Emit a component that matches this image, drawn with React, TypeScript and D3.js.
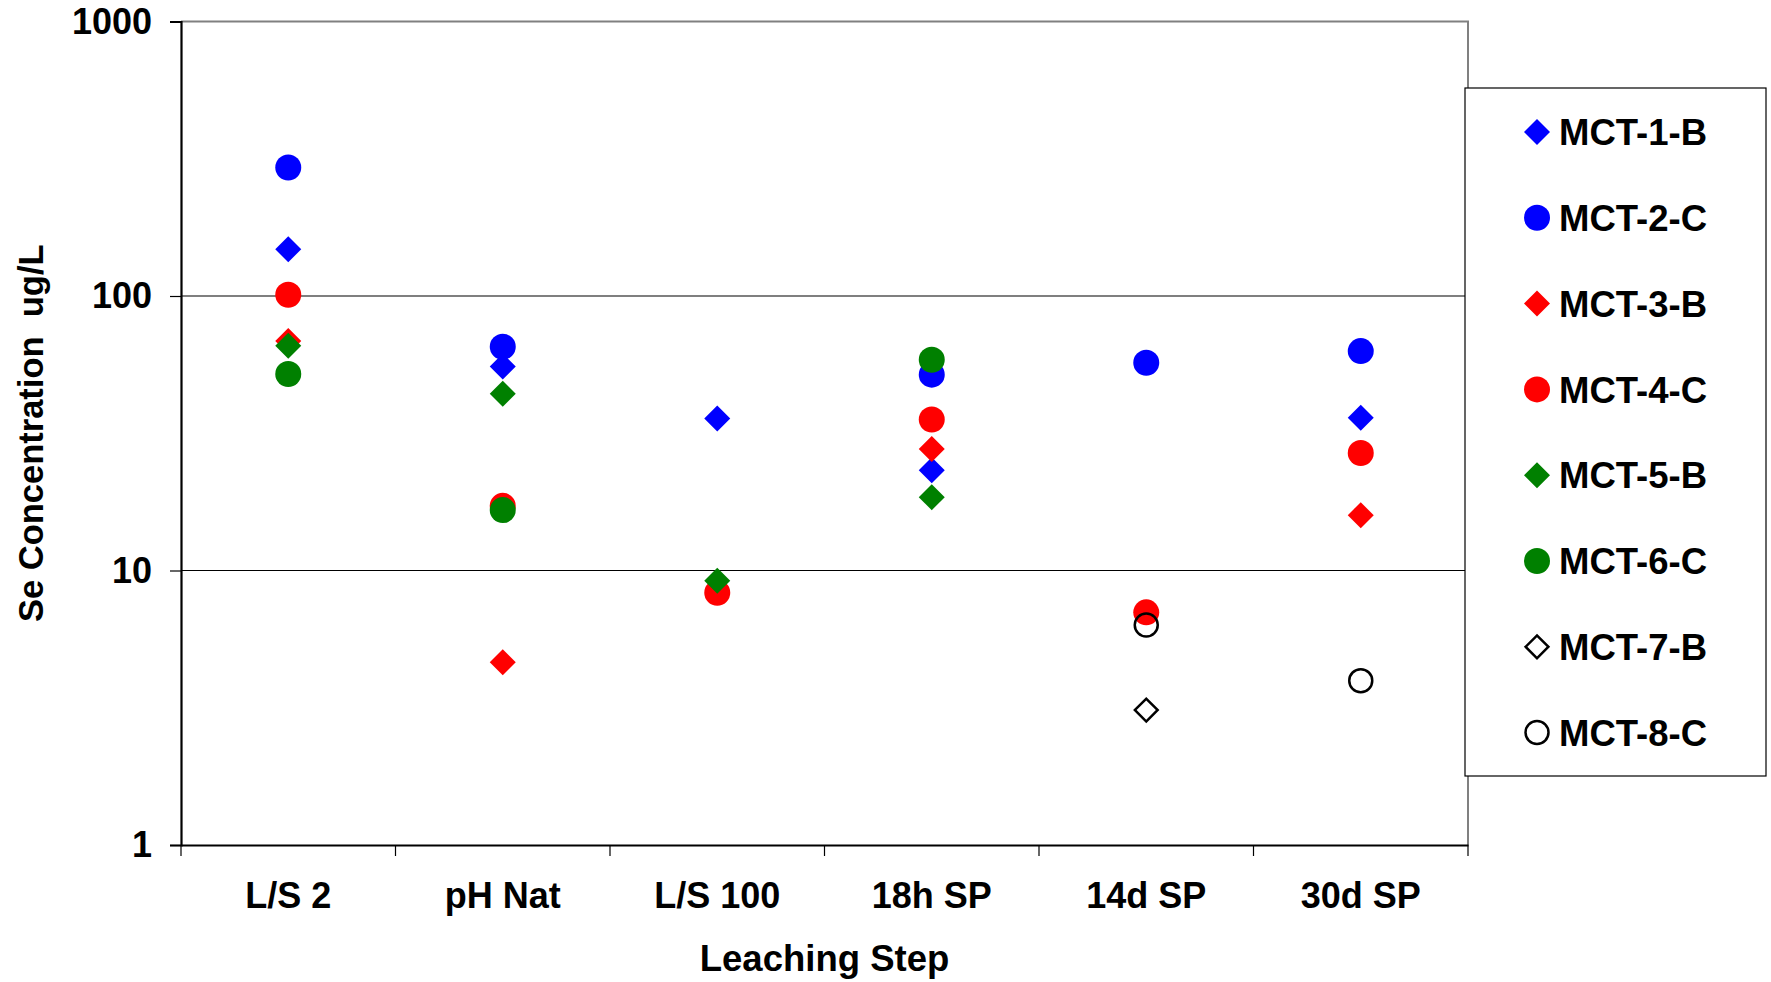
import * as d3 from 'd3';
import React, { useRef, useEffect } from 'react';

const categories = ["L/S 2", "pH Nat", "L/S 100", "18h SP", "14d SP", "30d SP"];
const seriesNames = ["MCT-1-B", "MCT-2-C", "MCT-3-B", "MCT-4-C", "MCT-5-B", "MCT-6-C", "MCT-7-B", "MCT-8-C"];

// values per leaching step, null = no point
const mct1b = [148, 55.3, 35.8, 23.2, null, 36.0];
const mct2c = [294, 65.3, null, 51.7, 57.1, 63.0];
const mct3b = [68.6, 4.63, null, 27.7, null, 15.9];
const mct4c = [101, 17.2, 8.3, 35.5, 7.04, 26.8];
const mct5b = [65.9, 44, 9.18, 18.5, null, null];
const mct6c = [52, 16.6, null, 58.6, null, null];
const mct7b = [null, null, null, null, 3.1, null];
const mct8c = [null, null, null, null, 6.33, 3.97];

const yTicks = [1, 10, 100, 1000];

const W = 1771, H = 982;
const margin = { top: 21.5, right: 303, bottom: 137, left: 181 };
const FONT = "'Liberation Sans', Arial, Helvetica, sans-serif";

// marker look for each series
const styles = [
  { shape: "diamond", color: "#0000ff", hollow: false },
  { shape: "circle", color: "#0000ff", hollow: false },
  { shape: "diamond", color: "#ff0000", hollow: false },
  { shape: "circle", color: "#ff0000", hollow: false },
  { shape: "diamond", color: "#008000", hollow: false },
  { shape: "circle", color: "#008000", hollow: false },
  { shape: "diamond", color: "#000000", hollow: true },
  { shape: "circle", color: "#000000", hollow: true },
];

function Chart() {
  const ref = useRef(null);

  useEffect(() => {
    const svg = d3.select(ref.current);
    svg.selectAll('*').remove();

    const allSeries = [mct1b, mct2c, mct3b, mct4c, mct5b, mct6c, mct7b, mct8c];

    const x0 = margin.left, x1 = W - margin.right;
    const y0 = H - margin.bottom, y1 = margin.top;

    const x = d3.scaleBand().domain(categories).range([x0, x1]);
    const y = d3.scaleLog().domain([1, 1000]).range([y0, y1]);

    svg.append("rect").attr("width", W).attr("height", H).attr("fill", "#fff");

    // gridlines
    svg.append("g").selectAll("line")
      .data(yTicks.filter(t => t > 1 && t < 1000))
      .enter().append("line")
      .attr("x1", x0).attr("x2", x1)
      .attr("y1", d => y(d)).attr("y2", d => y(d))
      .attr("stroke", "#000").attr("stroke-width", 1.2);

    // plot border top / right (grey)
    svg.append("path")
      .attr("d", `M${x0},${y1}H${x1}V${y0}`)
      .attr("fill", "none").attr("stroke", "#808080").attr("stroke-width", 2);

    // y axis
    const yAxis = svg.append("g").attr("transform", `translate(${x0},0)`)
      .call(d3.axisLeft(y).tickValues(yTicks).tickFormat(d3.format("d")).tickSize(11).tickPadding(18));
    yAxis.select(".domain").attr("stroke", "#000").attr("stroke-width", 2.2);
    yAxis.selectAll(".tick line").attr("stroke", "#000").attr("stroke-width", 1.2);
    yAxis.selectAll("text")
      .attr("font-family", FONT).attr("font-weight", "bold").attr("font-size", 36).attr("fill", "#000");

    // x axis
    const xAxis = svg.append("g").attr("transform", `translate(0,${y0})`)
      .call(d3.axisBottom(x).tickSize(0).tickPadding(37));
    xAxis.select(".domain").attr("stroke", "#000").attr("stroke-width", 2.2);
    xAxis.selectAll("text")
      .attr("font-family", FONT).attr("font-weight", "bold").attr("font-size", 36).attr("fill", "#000");

    // tick marks between categories
    const edges = categories.map(c => x(c)).concat([x1]);
    svg.append("g").selectAll("line")
      .data(edges).enter().append("line")
      .attr("x1", d => d).attr("x2", d => d)
      .attr("y1", y0).attr("y2", y0 + 11)
      .attr("stroke", "#000").attr("stroke-width", 1.2);

    // axis titles
    svg.append("text")
      .attr("x", (x0 + x1) / 2).attr("y", 971)
      .attr("text-anchor", "middle")
      .attr("font-family", FONT).attr("font-weight", "bold").attr("font-size", 36.5)
      .text("Leaching Step");

    svg.append("text")
      .attr("transform", `translate(43,${(y0 + y1) / 2}) rotate(-90)`)
      .attr("text-anchor", "middle")
      .attr("font-family", FONT).attr("font-weight", "bold").attr("font-size", 34.5)
      .attr("xml:space", "preserve")
      .text("Se Concentration  ug/L");

    const diamond = d3.symbol().type(d3.symbolSquare).size(338);
    const diamondHollow = d3.symbol().type(d3.symbolSquare).size(260);

    const drawMarker = (g, st, cx, cy) => {
      if (st.shape === "circle") {
        g.append("circle")
          .attr("cx", cx).attr("cy", cy)
          .attr("r", st.hollow ? 11.5 : 13)
          .attr("fill", st.hollow ? "none" : st.color)
          .attr("stroke", st.hollow ? st.color : "none")
          .attr("stroke-width", 2.5);
      } else {
        g.append("path")
          .attr("d", st.hollow ? diamondHollow() : diamond())
          .attr("transform", `translate(${cx},${cy}) rotate(45)`)
          .attr("fill", st.hollow ? "none" : st.color)
          .attr("stroke", st.hollow ? st.color : "none")
          .attr("stroke-width", 2.5);
      }
    };

    // points
    const pts = svg.append("g");
    allSeries.forEach((vals, i) => {
      vals.forEach((v, j) => {
        if (v == null) return;
        drawMarker(pts, styles[i], x(categories[j]) + x.bandwidth() / 2, y(v));
      });
    });

    // legend
    const lg = svg.append("g");
    lg.append("rect")
      .attr("x", 1465).attr("y", 88).attr("width", 301).attr("height", 688)
      .attr("fill", "#fff").attr("stroke", "#000").attr("stroke-width", 1.2);
    seriesNames.forEach((name, i) => {
      const cy = 132 + i * 85.8;
      drawMarker(lg, styles[i], 1537, cy);
      lg.append("text")
        .attr("x", 1559).attr("y", cy).attr("dy", "0.36em")
        .attr("font-family", FONT).attr("font-weight", "bold").attr("font-size", 36.5)
        .text(name);
    });
  });

  return (
    <svg ref={ref} width={W} height={H} style={{ display: "block" }}>
    </svg>
  );
}

export default function App() {
  return (
    <div style={{ position: "absolute", left: 0, top: 0 }}>
      <Chart />
    </div>
  );
}
